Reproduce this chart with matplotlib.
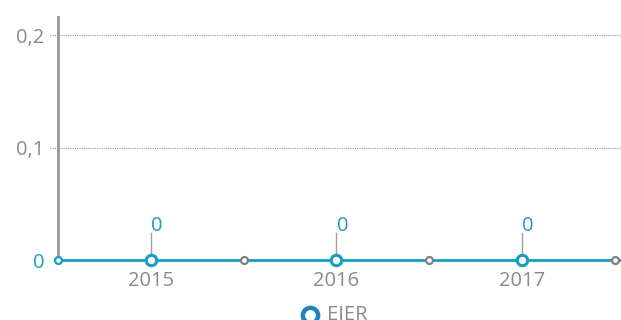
import matplotlib
matplotlib.use("Agg")
import matplotlib.pyplot as plt
from matplotlib.lines import Line2D

plt.rcParams['font.family'] = ['Open Sans', 'DejaVu Sans']

# Series data
years = [2015, 2016, 2017]
values = [0, 0, 0]
# Period boundaries shown as small markers on the line
bounds = [2014.5, 2015.5, 2016.5, 2017.5]
bound_values = [0, 0, 0, 0]
y_ticks = [0, 0.1, 0.2]
y_tick_labels = ["0", "0,1", "0,2"]
series_name = "EIER"

line_color = "#159fc6"
legend_color = "#1f80c2"
grey_text = "#8a8a8a"
fs = 14.5

fig = plt.figure(figsize=(6.21, 3.2), dpi=100)
ax = fig.add_axes([58 / 621, 60 / 320, 563 / 621, 243 / 320])
ax.set_xlim(2014.5, 2017.535)
ax.set_ylim(0, 0.216)

for s in ["top", "right", "bottom"]:
    ax.spines[s].set_visible(False)
ax.spines["left"].set_color("#9a9a9a")
ax.spines["left"].set_linewidth(2)

# Dotted gridlines, extended slightly left of the axis as tick marks
for t in y_ticks[1:]:
    ax.axhline(t, xmin=-0.015, xmax=1, color="#9a9a9a", lw=0.8,
               ls=(0, (1, 1)), clip_on=False, zorder=1)

ax.set_yticks(y_ticks)
ax.set_yticklabels(y_tick_labels)
ax.tick_params(axis="y", length=0, pad=10, labelsize=fs, labelcolor=grey_text)
ax.get_yticklabels()[0].set_color(line_color)

ax.set_xticks(years)
ax.set_xticklabels([str(y) for y in years])
ax.tick_params(axis="x", length=0, pad=8, labelsize=fs, labelcolor=grey_text)

# Baseline series line across the full width
ax.plot([2014.5, 2017.535], [0, 0], color=line_color, lw=2,
        clip_on=False, zorder=3)

# Boundary markers
ax.plot(bounds[1:], bound_values[1:], ls="none", marker="o", ms=5,
        mfc="white", mec="#808080", mew=1.6, clip_on=False, zorder=4)
ax.plot(bounds[:1], bound_values[:1], ls="none", marker="o", ms=5,
        mfc="white", mec=line_color, mew=1.6, clip_on=False, zorder=4)

# Main data points
ax.plot(years, values, ls="none", marker="o", ms=7.5,
        mfc="white", mec=line_color, mew=2.2, clip_on=False, zorder=5)

# Value labels with leader lines
for x, v in zip(years, values):
    ax.annotate(str(v), xy=(x, v), xytext=(0.5, 17), textcoords="offset points",
                ha="left", va="bottom", fontsize=fs, color=line_color,
                zorder=6)
    ax.plot([x, x], [v + 0.004, v + 0.024], color="#a0a0a0", lw=1,
            zorder=2)

# Legend
fig.add_artist(Line2D([310 / 621], [5 / 320], transform=fig.transFigure,
                      marker="o", ms=11, mfc="white", mec=legend_color,
                      mew=3.2, ls="none"))
fig.text(327 / 621, 0.5 / 320, series_name, fontsize=fs, color=grey_text,
         ha="left", va="baseline")

fig.savefig("out.png", dpi=100)
